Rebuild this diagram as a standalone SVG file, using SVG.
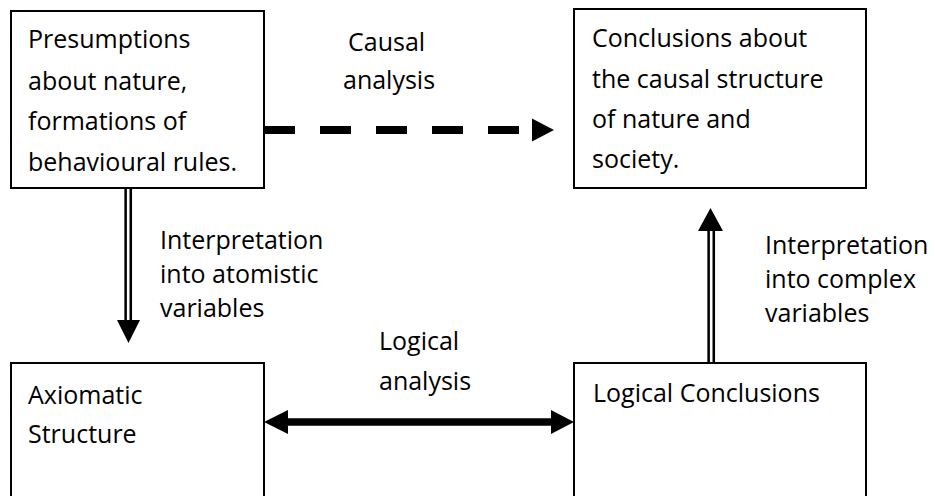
<svg xmlns="http://www.w3.org/2000/svg" width="935" height="496" viewBox="0 0 935 496">
<style>
.box{fill:#fff;stroke:#000;stroke-width:2}
text{font-family:"Open Sans","Liberation Sans",sans-serif;font-size:25px;fill:#000}
.ah{fill:#000;stroke:none}
</style>
<rect width="935" height="496" fill="#fff"/>
<g id="connectors">
  <g id="c-causal">
    <line x1="264" y1="130" x2="532" y2="130" stroke="#000" stroke-width="8" stroke-dasharray="31 25"/>
    <polygon class="ah" points="532,118.5 554,130 532,141.5"/>
  </g>
  <g id="c-interp-atomistic">
    <line x1="128.2" y1="188" x2="128.2" y2="321" stroke="#000" stroke-width="7.7"/>
    <line x1="128.2" y1="188" x2="128.2" y2="321" stroke="#fff" stroke-width="2.6"/>
    <polygon class="ah" points="117,320 140,320 128.5,343"/>
  </g>
  <g id="c-interp-complex">
    <line x1="711.2" y1="362" x2="711.2" y2="230" stroke="#000" stroke-width="7.7"/>
    <line x1="711.2" y1="362" x2="711.2" y2="230" stroke="#fff" stroke-width="2.6"/>
    <polygon class="ah" points="698,231 723,231 710.5,208"/>
  </g>
  <g id="c-logical">
    <line x1="285" y1="422" x2="553" y2="422" stroke="#000" stroke-width="7.5"/>
    <polygon class="ah" points="264,422 288,410 288,434"/>
    <polygon class="ah" points="574,422 551,410 551,434"/>
  </g>
</g>
<g id="labels">
  <text x="348" y="51">Causal</text>
  <text x="343" y="89">analysis</text>
  <text x="160" y="249">Interpretation</text>
  <text x="160" y="283">into atomistic</text>
  <text x="160" y="317">variables</text>
  <text x="765" y="254">Interpretation</text>
  <text x="765" y="288">into complex</text>
  <text x="765" y="322">variables</text>
  <text x="379" y="350">Logical</text>
  <text x="379" y="390">analysis</text>
</g>
<g id="n-presumptions">
  <rect class="box" x="11" y="11" width="253" height="177"/>
  <text x="28" y="48">Presumptions</text>
  <text x="28" y="90">about nature,</text>
  <text x="28" y="130">formations of</text>
  <text x="28" y="171">behavioural rules.</text>
</g>
<g id="n-conclusions">
  <rect class="box" x="574" y="9" width="292" height="179"/>
  <text x="592" y="47">Conclusions about</text>
  <text x="592" y="88">the causal structure</text>
  <text x="592" y="128">of nature and</text>
  <text x="592" y="168">society.</text>
</g>
<g id="n-axiomatic">
  <rect class="box" x="11" y="363" width="253" height="160"/>
  <text x="28" y="404">Axiomatic</text>
  <text x="28" y="443">Structure</text>
</g>
<g id="n-logical-conclusions">
  <rect class="box" x="574" y="363" width="292" height="160"/>
  <text x="593" y="402">Logical Conclusions</text>
</g>
</svg>
